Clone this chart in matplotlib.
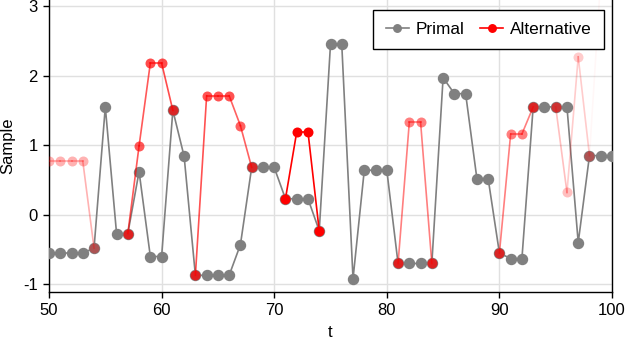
import numpy as np
import matplotlib
matplotlib.use("Agg")
import matplotlib.pyplot as plt

plt.rcParams['font.family'] = ['Liberation Sans', 'DejaVu Sans']
plt.rcParams['axes.unicode_minus'] = False

t = list(range(50, 101))
primal = [-0.55, -0.55, -0.55, -0.55, -0.48, 1.55, -0.27, -0.27, 0.62, -0.60,
          -0.60, 1.50, 0.84, -0.87, -0.87, -0.87, -0.87, -0.43, 0.68, 0.68,
          0.68, 0.23, 0.23, 0.23, -0.23, 2.45, 2.45, -0.92, 0.64, 0.64,
          0.64, -0.70, -0.70, -0.70, -0.70, 1.97, 1.74, 1.74, 0.52, 0.52,
          -0.55, -0.63, -0.63, 1.55, 1.55, 1.55, 1.55, -0.40, 0.85, 0.85,
          0.85]
nan = np.nan
alternative = [0.77, 0.77, 0.77, 0.77, -0.48, nan, nan, -0.27, 0.99, 2.18,
               2.18, 1.50, nan, -0.87, 1.71, 1.71, 1.71, 1.28, 0.68, nan,
               nan, 0.23, 1.19, 1.19, -0.23, nan, nan, nan, nan, nan,
               nan, -0.70, 1.33, 1.33, -0.70, nan, nan, nan, nan, nan,
               -0.55, 1.16, 1.16, 1.55, nan, 1.55, 0.32, 2.27, 0.85, 3.4,
               nan]
alt_alpha = [0.3, 0.3, 0.3, 0.3, 0.35, 0, 0, 0.75, 0.65, 0.7,
             0.7, 0.7, 0, 0.75, 0.68, 0.68, 0.68, 0.62, 0.7, 0,
             0, 1.0, 1.0, 1.0, 1.0, 0, 0, 0, 0, 0,
             0, 0.75, 0.5, 0.5, 0.75, 0, 0, 0, 0, 0,
             0.7, 0.5, 0.5, 0.7, 0, 0.6, 0.25, 0.2, 0.35, 0.03,
             0]

gray = '#808080'
red = '#ff0000'

fig = plt.figure(figsize=(6.26, 3.42), dpi=100)
ax = fig.add_axes([49/626, 50/342, (612-49)/626, 292/342])

ax.plot(t, primal, color=gray, lw=1.2, marker='o', ms=7.2, mec=gray, mfc=gray,
        label='Primal', zorder=3)

# Alternative: segments and markers with varying alpha
for i in range(len(t) - 1):
    y0, y1 = alternative[i], alternative[i + 1]
    if np.isnan(y0) or np.isnan(y1):
        continue
    a = min(alt_alpha[i], alt_alpha[i + 1])
    ax.plot([t[i], t[i + 1]], [y0, y1], color=red, lw=1.2, alpha=a, zorder=4)
for i in range(len(t)):
    if np.isnan(alternative[i]):
        continue
    ax.plot([t[i]], [alternative[i]], marker='o', ms=7.2, color=red, mec='none',
            alpha=alt_alpha[i], ls='none', zorder=5)

ax.plot([], [], color=red, lw=1.2, marker='o', ms=7.2, label='Alternative')

ax.set_xlim(50, 100)
ax.set_ylim(-1.11, 3.086)
ax.set_xticks([50, 60, 70, 80, 90, 100])
ax.set_yticks([-1, 0, 1, 2, 3])
ax.grid(True, color='#e0e0e0', lw=1.0)
ax.set_axisbelow(True)
ax.spines['top'].set_visible(False)
for s in ['left', 'bottom', 'right']:
    ax.spines[s].set_linewidth(1.0)
ax.tick_params(direction='out', length=4, width=1, labelsize=12, colors='black', pad=4)
ax.set_xlabel('t', fontsize=12, labelpad=5)
ax.set_ylabel('Sample', fontsize=12, labelpad=6)

leg = ax.legend(loc='upper right', ncol=2, fontsize=12.4, frameon=True, fancybox=False,
                edgecolor='black', framealpha=1, borderaxespad=0, borderpad=0.7,
                handlelength=1.35, handletextpad=0.4, columnspacing=0.9,
                markerscale=0.75,
                bbox_to_anchor=((604-49)/563, 1 - 10/292))
leg.get_frame().set_linewidth(1.0)

fig.savefig('out.png', dpi=100)
